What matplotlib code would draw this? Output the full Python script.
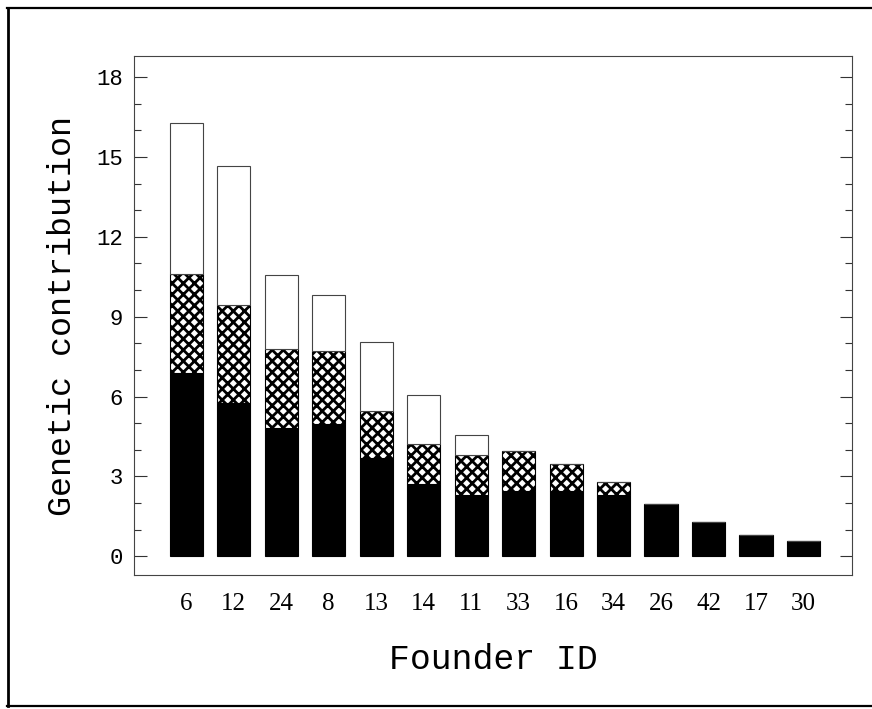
import matplotlib
matplotlib.use("Agg")
import matplotlib.pyplot as plt
import numpy as np
from matplotlib.lines import Line2D
from matplotlib.ticker import MultipleLocator

# founder IDs in plotted order
founders = ["6", "12", "24", "8", "13", "14", "11", "33", "16", "34", "26", "42", "17", "30"]
# stacked segments of genetic contribution (bottom -> top)
solid = [6.9, 5.75, 4.8, 4.95, 3.7, 2.7, 2.3, 2.45, 2.45, 2.3, 1.95, 1.3, 0.8, 0.55]
hatched = [3.7, 3.7, 3.0, 2.75, 1.75, 1.5, 1.5, 1.5, 1.0, 0.5, 0, 0, 0, 0]
open_ = [5.7, 5.2, 2.75, 2.1, 2.6, 1.85, 0.75, 0, 0, 0, 0, 0, 0, 0]

mono = "Liberation Mono"
serif = "Liberation Serif"
plt.rcParams["hatch.linewidth"] = 2.0

fig = plt.figure(figsize=(8.72, 7.09), dpi=100)
ax = fig.add_axes([134 / 872, 1 - 575 / 709, (852 - 134) / 872, (575 - 56) / 709])

x = np.arange(len(founders))
solid = np.array(solid)
hatched = np.array(hatched)
open_ = np.array(open_)

ax.bar(x, solid, width=0.7, color="black", edgecolor="black", linewidth=0.8)
ax.bar(x, hatched, width=0.7, bottom=solid, color="white", edgecolor="black",
       hatch="xxx", linewidth=0.8)
ax.bar(x, open_, width=0.7, bottom=solid + hatched, color="white", edgecolor="#444444",
       linewidth=0.8)

ax.set_xlim(-1.1, 14.02)
ax.set_ylim(-0.71, 18.8)
ax.yaxis.set_major_locator(MultipleLocator(3))
ax.yaxis.set_minor_locator(MultipleLocator(1))
ax.tick_params(axis="y", which="both", direction="in", left=True, right=True,
               color="#333333", width=0.8)
ax.tick_params(axis="y", which="major", length=9, pad=8)
ax.tick_params(axis="y", which="minor", length=5)
ax.tick_params(axis="x", length=0, pad=13)
for lbl in ax.get_yticklabels():
    lbl.set_fontfamily(mono)
    lbl.set_fontsize(16)

ax.set_xticks(x)
ax.set_xticklabels(founders, fontfamily=serif, fontsize=18)

for s in ax.spines.values():
    s.set_linewidth(0.8)
    s.set_color("#444444")

ax.set_ylabel("Genetic contribution", fontfamily=mono, fontsize=24, labelpad=13)
ax.set_xlabel("Founder ID", fontfamily=mono, fontsize=25, labelpad=20)

# scanned page frame
fig.add_artist(Line2D([7.5 / 872, 7.5 / 872], [1 - 8 / 709, 1 - 706 / 709],
                      transform=fig.transFigure, color="black", linewidth=2))
fig.add_artist(Line2D([7 / 872, 1], [1 - 8 / 709, 1 - 8 / 709],
                      transform=fig.transFigure, color="black", linewidth=1.6))
fig.add_artist(Line2D([7 / 872, 1], [1 - 706 / 709, 1 - 706 / 709],
                      transform=fig.transFigure, color="black", linewidth=1.6))

fig.savefig("out.png", dpi=100)
plt.close(fig)
